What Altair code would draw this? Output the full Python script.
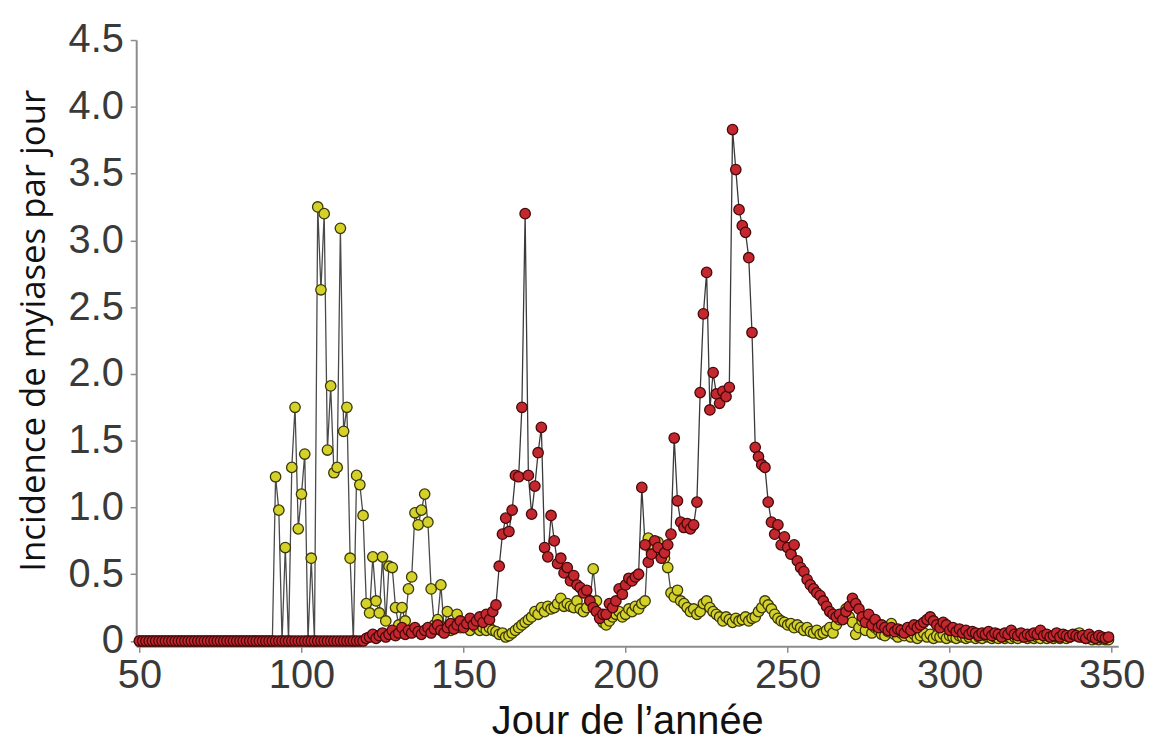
import altair as alt
import pandas as pd

# Day of year (one observation per day)
DAYS = list(range(50, 350))

# Yellow series, days 50..349
YELLOW = [
    0, 0, 0, 0, 0, 0, 0, 0, 0, 0,            # 50-59
    0, 0, 0, 0, 0, 0, 0, 0, 0, 0,            # 60-69
    0, 0, 0, 0, 0, 0, 0, 0, 0, 0,            # 70-79
    0, 0, 0, 0, 0, 0, 0, 0, 0, 0,            # 80-89
    0, 0, 1.23, 0.98, 0, 0.70, 0, 1.30, 1.75, 0.84,   # 90-99
    1.10, 1.40, 0, 0.62, 0, 3.25, 2.63, 3.20, 1.43, 1.91,  # 100-109
    1.26, 1.30, 3.09, 1.57, 1.75, 0.62, 0, 1.24, 1.17, 0.94,  # 110-119
    0.28, 0.21, 0.63, 0.30, 0.21, 0.63, 0.15, 0.56, 0.55, 0.25,  # 120-129
    0.12, 0.25, 0.15, 0.39, 0.48, 0.96, 0.87, 0.98, 1.10, 0.89,  # 130-139
    0.39, 0.12, 0.16, 0.42, 0.10, 0.22, 0.08, 0.12, 0.20, 0.10,  # 140-149
    0.12, 0.12, 0.08, 0.12, 0.10, 0.08, 0.10, 0.08, 0.10, 0.08,  # 150-159
    0.07, 0.05, 0.06, 0.03, 0.04, 0.06, 0.08, 0.10, 0.12, 0.14,  # 160-169
    0.16, 0.18, 0.22, 0.20, 0.25, 0.22, 0.26, 0.24, 0.25, 0.28,  # 170-179
    0.32, 0.26, 0.28, 0.26, 0.25, 0.30, 0.24, 0.22, 0.25, 0.30,  # 180-189
    0.54, 0.30, 0.20, 0.14, 0.12, 0.15, 0.18, 0.20, 0.22, 0.18,  # 190-199
    0.20, 0.24, 0.22, 0.26, 0.24, 0.28, 0.30, 0.77, 0.72, 0.70,  # 200-209
    0.74, 0.69, 0.62, 0.55, 0.36, 0.33, 0.38, 0.30, 0.28, 0.25,  # 210-219
    0.22, 0.24, 0.20, 0.22, 0.28, 0.30, 0.25, 0.22, 0.20, 0.18,  # 220-229
    0.15, 0.18, 0.16, 0.14, 0.17, 0.15, 0.16, 0.18, 0.15, 0.17,  # 230-239
    0.18, 0.22, 0.25, 0.30, 0.27, 0.24, 0.20, 0.17, 0.15, 0.14,  # 240-249
    0.12, 0.13, 0.10, 0.12, 0.10, 0.08, 0.10, 0.07, 0.06, 0.08,  # 250-259
    0.05, 0.06, 0.08, 0.10, 0.06, 0.12, 0.16, 0.20, 0.24, 0.18,  # 260-269
    0.14, 0.05, 0.10, 0.15, 0.08, 0.19, 0.06, 0.10, 0.08, 0.05,  # 270-279
    0.04, 0.07, 0.13, 0.05, 0.03, 0.06, 0.04, 0.08, 0.03, 0.05,  # 280-289
    0.02, 0.04, 0.06, 0.03, 0.05, 0.02, 0.04, 0.03, 0.05, 0.02,  # 290-299
    0.04, 0.03, 0.02, 0.04, 0.03, 0.02, 0.03, 0.05, 0.02, 0.03,  # 300-309
    0.02, 0.04, 0.03, 0.02, 0.03, 0.02, 0.04, 0.02, 0.03, 0.02,  # 310-319
    0.03, 0.02, 0.04, 0.03, 0.02, 0.03, 0.02, 0.03, 0.02, 0.04,  # 320-329
    0.02, 0.03, 0.02, 0.03, 0.02, 0.03, 0.02, 0.03, 0.04, 0.05,  # 330-339
    0.06, 0.03, 0.02, 0.02, 0.01, 0.02, 0.01, 0.02, 0.01, 0.01,  # 340-349
]

# Red series, days 50..349
RED = [
    0, 0, 0, 0, 0, 0, 0, 0, 0, 0,            # 50-59
    0, 0, 0, 0, 0, 0, 0, 0, 0, 0,            # 60-69
    0, 0, 0, 0, 0, 0, 0, 0, 0, 0,            # 70-79
    0, 0, 0, 0, 0, 0, 0, 0, 0, 0,            # 80-89
    0, 0, 0, 0, 0, 0, 0, 0, 0, 0,            # 90-99
    0, 0, 0, 0, 0, 0, 0, 0, 0, 0,            # 100-109
    0, 0, 0, 0, 0, 0, 0, 0, 0, 0,            # 110-119
    0.02, 0.03, 0.05, 0.02, 0.04, 0.06, 0.03, 0.05, 0.08, 0.04,  # 120-129
    0.06, 0.10, 0.05, 0.08, 0.06, 0.10, 0.07, 0.05, 0.08, 0.10,  # 130-139
    0.06, 0.09, 0.12, 0.08, 0.06, 0.10, 0.13, 0.09, 0.12, 0.15,  # 140-149
    0.10, 0.13, 0.17, 0.12, 0.15, 0.18, 0.14, 0.20, 0.16, 0.22,  # 150-159
    0.27, 0.56, 0.80, 0.92, 0.82, 0.98, 1.24, 1.23, 1.75, 3.20,  # 160-169
    1.24, 0.95, 1.16, 1.41, 1.60, 0.70, 0.63, 0.94, 0.75, 0.58,  # 170-179
    0.62, 0.51, 0.55, 0.45, 0.49, 0.42, 0.40, 0.36, 0.38, 0.30,  # 180-189
    0.25, 0.22, 0.17, 0.20, 0.20, 0.28, 0.25, 0.30, 0.39, 0.35,  # 190-199
    0.42, 0.47, 0.45, 0.48, 0.50, 1.15, 0.72, 0.59, 0.65, 0.75,  # 200-209
    0.70, 0.62, 0.66, 0.72, 0.80, 1.52, 1.05, 0.89, 0.85, 0.88,  # 210-219
    0.84, 0.87, 1.04, 1.86, 2.45, 2.76, 1.73, 2.01, 1.85, 1.78,  # 220-229
    1.87, 1.83, 1.90, 3.83, 3.53, 3.23, 3.11, 3.06, 2.87, 2.31,  # 230-239
    1.45, 1.38, 1.32, 1.30, 1.04, 0.89, 0.80, 0.87, 0.72, 0.78,  # 240-249
    0.70, 0.65, 0.72, 0.60, 0.55, 0.52, 0.46, 0.42, 0.39, 0.36,  # 250-259
    0.34, 0.30, 0.26, 0.22, 0.20, 0.18, 0.20, 0.16, 0.22, 0.26,  # 260-269
    0.32, 0.28, 0.24, 0.18, 0.14, 0.20, 0.12, 0.16, 0.10, 0.12,  # 270-279
    0.10, 0.08, 0.10, 0.07, 0.09, 0.08, 0.06, 0.10, 0.08, 0.12,  # 280-289
    0.10, 0.12, 0.14, 0.16, 0.18, 0.15, 0.12, 0.10, 0.14, 0.12,  # 290-299
    0.08, 0.10, 0.07, 0.09, 0.06, 0.08, 0.05, 0.07, 0.06, 0.04,  # 300-309
    0.06, 0.05, 0.07, 0.04, 0.06, 0.05, 0.03, 0.06, 0.05, 0.08,  # 310-319
    0.05, 0.04, 0.06, 0.03, 0.05, 0.04, 0.06, 0.05, 0.08, 0.04,  # 320-329
    0.05, 0.03, 0.04, 0.06, 0.03, 0.05, 0.04, 0.03, 0.05, 0.04,  # 330-339
    0.03, 0.04, 0.02, 0.05, 0.03, 0.02, 0.04, 0.03, 0.02, 0.03,  # 340-349
]

X_TICKS = [50, 100, 150, 200, 250, 300, 350]
Y_TICKS = [0, 0.5, 1.0, 1.5, 2.0, 2.5, 3.0, 3.5, 4.0, 4.5]

df = pd.DataFrame({
    "day": DAYS * 2,
    "value": YELLOW + RED,
    "series": ["jaune"] * len(DAYS) + ["rouge"] * len(DAYS),
})

AXIS_GREY = "#8c8c8c"

x_enc = alt.X(
    "day:Q",
    scale=alt.Scale(domain=[49, 352], nice=False, zero=False),
    axis=alt.Axis(
        values=X_TICKS,
        title="Jour de l’année",
        titleFont="Liberation Sans",
        titleFontSize=40,
        titleFontWeight="normal",
        titleColor="#111111",
        titleBaseline="alphabetic",
        titleY=88,
        labelFont="Liberation Sans",
        labelFontSize=40,
        labelColor="#3a3a3a",
        labelPadding=3,
        labelFlush=False,
        tickSize=6,
        tickColor=AXIS_GREY,
        tickWidth=1.5,
        domainColor=AXIS_GREY,
        domainWidth=2,
        grid=False,
    ),
)

y_enc = alt.Y(
    "value:Q",
    scale=alt.Scale(domain=[-0.04, 4.5], nice=False, zero=False),
    axis=alt.Axis(
        values=Y_TICKS,
        labelExpr="datum.value == 0 ? '0' : format(datum.value, '.1f')",
        title="Incidence de myiases par jour",
        titleFont="Open Sans",
        titleFontSize=35,
        titleFontWeight="normal",
        titleColor="#111111",
        titleAngle=270,
        titleBaseline="alphabetic",
        titleX=-92,
        titleY=292,
        labelFont="Liberation Sans",
        labelFontSize=40,
        labelColor="#3a3a3a",
        labelPadding=7,
        labelFlush=False,
        tickSize=6,
        tickColor=AXIS_GREY,
        tickWidth=1.5,
        domainColor=AXIS_GREY,
        domainWidth=2,
        grid=False,
    ),
)

base = alt.Chart(df).encode(x=x_enc, y=y_enc)

yellow_line = base.transform_filter(alt.datum.series == "jaune").mark_line(
    color="#4a4a4a", strokeWidth=1.3
)
red_line = base.transform_filter(alt.datum.series == "rouge").mark_line(
    color="#3a3a3a", strokeWidth=1.3
)
yellow_pts = base.transform_filter(alt.datum.series == "jaune").mark_circle(
    size=110, color="#d4d12a", opacity=1, stroke="#3a3805", strokeWidth=1.3
)
red_pts = base.transform_filter(alt.datum.series == "rouge").mark_circle(
    size=110, color="#c4282e", opacity=1, stroke="#45090b", strokeWidth=1.3
)

chart = (
    alt.layer(yellow_line, red_line, yellow_pts, red_pts)
    .properties(
        width=988,
        height=610,
        autosize=alt.AutoSizeParams(type="none"),
        padding={"left": 129, "top": 30, "right": 38, "bottom": 95},
        background="white",
    )
    .configure_view(stroke=None)
)

chart.save("out.html", embed_options={"renderer": "svg", "actions": False})
